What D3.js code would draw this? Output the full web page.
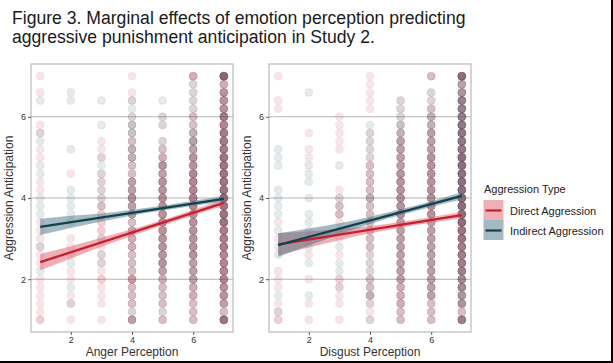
<!DOCTYPE html>
<html>
<head>
<meta charset="utf-8">
<script src="https://cdn.jsdelivr.net/npm/d3@7"></script>
<style>
  html, body { margin: 0; padding: 0; background: #fff; }
  svg { display: block; }
  text { font-family: "Liberation Sans", Arial, sans-serif; }
</style>
</head>
<body>
<svg id="chart" width="613" height="363"></svg>
<script>
// ---------------- DATA ----------------
const titleLines = [
  "Figure 3. Marginal effects of emotion perception predicting",
  "aggressive punishment anticipation in Study 2."
];
const panelNames = ["Anger Perception", "Disgust Perception"];
const yTitle = "Aggression Anticipation";
const seriesNames = ["Direct Aggression", "Indirect Aggression"];
const legendTitle = "Aggression Type";
const xTicks = [2, 4, 6];
const yTicks = [2, 4, 6];
const xLevels = [1, 2, 3, 4, 5, 6, 7];
// response levels: 1.0, 1.2, ..., 7.0 (31 levels); each digit = number of respondents at that level
const yLevels = d3.range(31).map(i => +(1 + i * 0.2).toFixed(1));

// Anger panel, counts per x level (strings indexed by yLevels)
const angerDirectCounts = [
  "2111110111111000110011011000101",
  "1011011011100000001000000000000",
  "1011121111122221111011100000000",
  "3122242223332334332222211101101",
  "2122233444444444443432101100000",
  "2223333344444455555443222211113",
  "6234455556666667666665555544437"
];
const angerIndirectCounts = [
  "0000001001000111001100110001000",
  "0010100100001111100001000001100",
  "0000000110100011111110001001000",
  "2111111111111222221122122111000",
  "1111112222222222222211101101000",
  "1111122222222222222222321111111",
  "3122222222223333333333332322214"
];
// Disgust panel
const disgustDirectCounts = [
  "2110111001101000000000000011001",
  "1010010010110000000011010000000",
  "1011120010101221100001111100000",
  "1112221112222222222211110011111",
  "2233333333333444444333321111000",
  "2223333333333444444443332221102",
  "5233445555666666666665555444336"
];
const disgustIndirectCounts = [
  "0101000010010111100111000000000",
  "0001000101001101011100000000100",
  "0000101101010111000100000000000",
  "1012111111111112111111111000000",
  "1111122222222222222222222111000",
  "1112222222222222222222222211101",
  "3133333333334444444444444444324"
];

// Fitted marginal effects (at x = 1 and x = 7) and 95% CI at each x level
const fitX = [1, 7];
const angerDirectFit = [2.42, 3.88];
const angerDirectLo = [2.22, 2.51, 2.80, 3.07, 3.32, 3.57, 3.80];
const angerDirectHi = [2.62, 2.81, 3.02, 3.23, 3.46, 3.71, 3.96];
const angerIndirectFit = [3.29, 3.98];
const angerIndirectLo = [3.09, 3.26, 3.42, 3.57, 3.69, 3.81, 3.91];
const angerIndirectHi = [3.49, 3.56, 3.62, 3.71, 3.81, 3.93, 4.05];
const disgustDirectFit = [2.86, 3.58];
const disgustDirectLo = [2.59, 2.78, 2.96, 3.13, 3.27, 3.39, 3.50];
const disgustDirectHi = [3.13, 3.18, 3.24, 3.31, 3.41, 3.53, 3.66];
const disgustIndirectFit = [2.84, 4.05];
const disgustIndirectLo = [2.55, 2.83, 3.10, 3.36, 3.58, 3.78, 3.96];
const disgustIndirectHi = [3.13, 3.25, 3.38, 3.54, 3.72, 3.92, 4.14];

// ---------------- STYLE ----------------
const pointColors = ["#b8233a", "#1c4654"];
const lineColors = ["#c61f30", "#14404c"];
const ribbonColors = ["#e0606e", "#4a7585"];

const svg = d3.select("#chart");
const W = 613, H = 363;

// title
svg.append("g").selectAll("text").data(titleLines).join("text")
  .attr("x", 12).attr("y", (d, i) => 23.5 + i * 19)
  .attr("font-size", 17.6).attr("fill", "#1a1a1a")
  .text(d => d);

const panels = [
  { name: panelNames[0], x0: 31, counts: [angerDirectCounts, angerIndirectCounts],
    fits: [angerDirectFit, angerIndirectFit], lo: [angerDirectLo, angerIndirectLo], hi: [angerDirectHi, angerIndirectHi] },
  { name: panelNames[1], x0: 269, counts: [disgustDirectCounts, disgustIndirectCounts],
    fits: [disgustDirectFit, disgustIndirectFit], lo: [disgustDirectLo, disgustIndirectLo], hi: [disgustDirectHi, disgustIndirectHi] }
];
const pw = 202, y0 = 64, y1 = 332;
const y = d3.scaleLinear().domain([0.7, 7.3]).range([y1, y0]);

panels.forEach(p => {
  const x = d3.scaleLinear().domain([0.7, 7.3]).range([p.x0, p.x0 + pw]);
  const g = svg.append("g");

  // grid
  g.append("g").selectAll("line").data(yTicks).join("line")
    .attr("x1", p.x0).attr("x2", p.x0 + pw)
    .attr("y1", d => y(d)).attr("y2", d => y(d))
    .attr("stroke", "#b4b4b4").attr("stroke-width", 1.1);

  // points
  const pts = [];
  p.counts.forEach((ser, si) => {
    ser.forEach((str, xi) => {
      str.split("").forEach((c, li) => {
        const n = +c;
        for (let k = 0; k < n; k++) pts.push({ s: si, x: xLevels[xi], y: yLevels[li] });
      });
    });
  });
  g.append("g").selectAll("circle").data(pts).join("circle")
    .attr("cx", d => x(d.x)).attr("cy", d => y(d.y)).attr("r", 4)
    .attr("fill", d => pointColors[d.s]).attr("fill-opacity", 0.115)
    .attr("stroke", d => pointColors[d.s]).attr("stroke-opacity", 0.08).attr("stroke-width", 0.8);

  // ribbons
  [0, 1].forEach(si => {
    const band = xLevels.map((xv, i) => ({ x: xv, lo: p.lo[si][i], hi: p.hi[si][i] }));
    g.append("path").datum(band)
      .attr("d", d3.area().x(d => x(d.x)).y0(d => y(d.lo)).y1(d => y(d.hi)).curve(d3.curveMonotoneX))
      .attr("fill", ribbonColors[si]).attr("fill-opacity", 0.5);
  });
  // lines
  [0, 1].forEach(si => {
    const ln = fitX.map((xv, i) => ({ x: xv, y: p.fits[si][i] }));
    g.append("path").datum(ln)
      .attr("d", d3.line().x(d => x(d.x)).y(d => y(d.y)))
      .attr("fill", "none").attr("stroke", lineColors[si]).attr("stroke-width", 2.3);
  });

  // border
  g.append("rect").attr("x", p.x0).attr("y", y0).attr("width", pw).attr("height", y1 - y0)
    .attr("fill", "none").attr("stroke", "#b3b3b3").attr("stroke-width", 1.1);

  // axes
  const ax = g.append("g").attr("transform", `translate(0,${y1})`)
    .call(d3.axisBottom(x).tickValues(xTicks).tickSize(3).tickPadding(2).tickFormat(d3.format("d")));
  const ay = g.append("g").attr("transform", `translate(${p.x0},0)`)
    .call(d3.axisLeft(y).tickValues(yTicks).tickSize(3).tickPadding(2).tickFormat(d3.format("d")));
  [ax, ay].forEach(a => {
    a.select(".domain").remove();
    a.selectAll(".tick line").attr("stroke", "#333").attr("stroke-width", 0.8);
    a.selectAll(".tick text").attr("font-size", 9).attr("fill", "#333")
      .attr("font-family", "'Liberation Sans', Arial, sans-serif");
  });

  // axis titles
  g.append("text").attr("x", p.x0 + pw / 2).attr("y", 356)
    .attr("text-anchor", "middle").attr("font-size", 12).attr("fill", "#333").text(p.name);
  g.append("text")
    .attr("transform", `translate(${p.x0 - 18},${(y0 + y1) / 2}) rotate(-90)`)
    .attr("text-anchor", "middle").attr("font-size", 12).attr("fill", "#333").text(yTitle);
});

// legend
const lg = svg.append("g");
lg.append("text").attr("x", 484).attr("y", 192.5).attr("font-size", 11).attr("fill", "#222").text(legendTitle);
seriesNames.forEach((name, i) => {
  const ky = 200 + i * 20;
  lg.append("rect").attr("x", 483.5).attr("y", ky).attr("width", 20).attr("height", 20)
    .attr("fill", ribbonColors[i]).attr("fill-opacity", 0.5);
  lg.append("line").attr("x1", 485.5).attr("x2", 501.5).attr("y1", ky + 10.5).attr("y2", ky + 10.5)
    .attr("stroke", lineColors[i]).attr("stroke-width", 2.2);
  lg.append("text").attr("x", 510).attr("y", ky + 14.5).attr("font-size", 11).attr("fill", "#222").text(name);
});

// outer frame edges (right & bottom)
svg.append("rect").attr("x", W - 2).attr("y", 0).attr("width", 2).attr("height", H).attr("fill", "#000");
svg.append("rect").attr("x", 0).attr("y", H - 2).attr("width", W).attr("height", 2).attr("fill", "#000");
</script>
</body>
</html>
